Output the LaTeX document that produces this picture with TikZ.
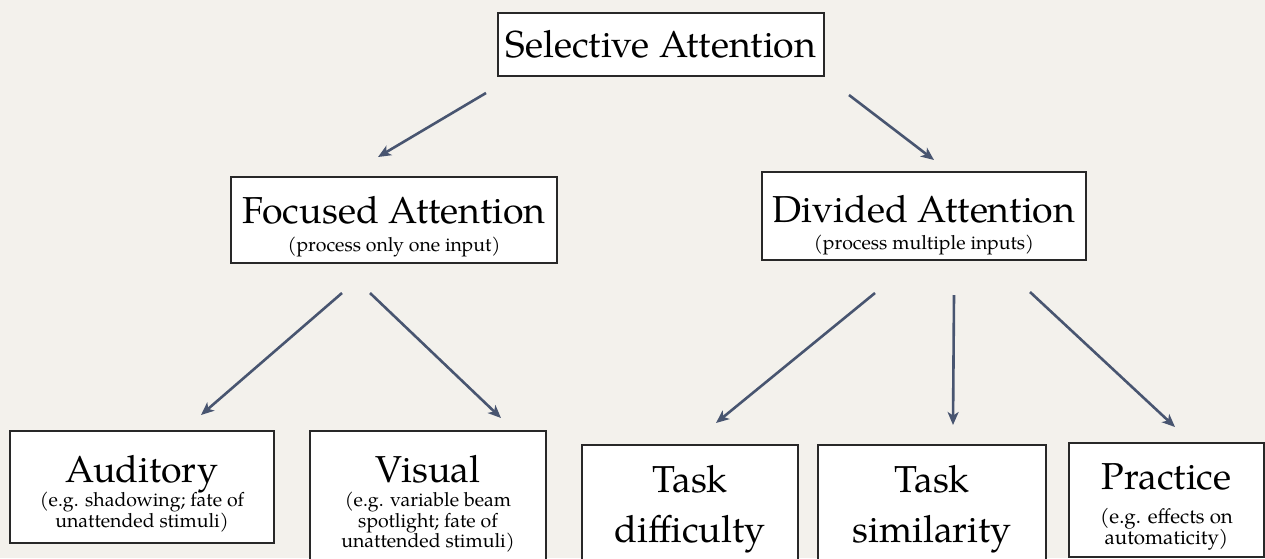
\documentclass[tikz,border=0pt]{standalone}
\usepackage{fontspec}
\setmainfont{TeX Gyre Pagella}
\usetikzlibrary{arrows.meta}
\definecolor{paper}{RGB}{243,241,236}
\definecolor{arrowc}{RGB}{72,85,112}
\definecolor{boxline}{RGB}{40,40,40}
\newcommand{\bigtxt}{\fontsize{37.5}{40}\selectfont}
\newcommand{\fixskip}{\lineskiplimit=-100pt\relax}
\begin{document}
\begin{tikzpicture}[x=1pt,y=-1pt,
  box/.style={draw=boxline, line width=1.4pt, fill=white, inner sep=0pt, align=center},
  conn/.style={draw=arrowc, line width=2.6pt, -{Stealth[length=13pt,width=11pt,inset=3.5pt]}}]
\useasboundingbox (0,0) rectangle (1265,558);
\clip (0,0) rectangle (1265,558);
\fill[paper] (0,0) rectangle (1265,558);

\node[box, minimum width=326pt, minimum height=63pt, font=\bigtxt] (sel) at (661,44.5) {Selective Attention};

\node[box, minimum width=326pt, minimum height=86pt,
  font={\fontsize{19.5}{27.5}\selectfont\fixskip}] (foc) at (394,220)
  {\rule{0pt}{40.4pt}{\bigtxt Focused Attention}\\(process only one input)};

\node[box, minimum width=324pt, minimum height=88pt,
  font={\fontsize{19.5}{27.5}\selectfont\fixskip}] (div) at (924,216)
  {\rule{0pt}{45pt}{\bigtxt Divided Attention}\\(process multiple inputs)};

\node[box, minimum width=264pt, minimum height=112pt,
  font={\fontsize{19.5}{20.5}\selectfont\fixskip}] (aud) at (142,487)
  {\rule{0pt}{40.3pt}{\bigtxt Auditory}\\[4pt](e.g. shadowing; fate of\\unattended stimuli)};

\node[box, minimum width=236pt, minimum height=145.6pt,
  font={\fontsize{19.5}{20.5}\selectfont\fixskip}] (vis) at (428,503.8)
  {{\bigtxt Visual}\\[4pt](e.g. variable beam\\spotlight; fate of\\unattended stimuli)};

\node[box, minimum width=216pt, minimum height=127.3pt,
  font={\fontsize{37.5}{50}\selectfont\fixskip}] (td) at (690,508.7)
  {Task\\difficulty};

\node[box, minimum width=228pt, minimum height=127.3pt,
  font={\fontsize{37.5}{50}\selectfont\fixskip}] (ts) at (932,508.7)
  {Task\\similarity};

\node[box, minimum width=195pt, minimum height=114pt,
  font={\fontsize{20.5}{20.5}\selectfont\fixskip}] (pr) at (1166.5,500)
  {\rule{0pt}{40pt}{\bigtxt Practice}\\[13.5pt](e.g. effects on\\automaticity)};

\coordinate (a1s) at (486,93);   \coordinate (a1e) at (378,157);
\coordinate (a2s) at (849,95);   \coordinate (a2e) at (934,160);
\coordinate (a3s) at (342,293);  \coordinate (a3e) at (201,415);
\coordinate (a4s) at (370,293);  \coordinate (a4e) at (501,418);
\coordinate (a5s) at (875,293);  \coordinate (a5e) at (716,423);
\coordinate (a6s) at (954,295);  \coordinate (a6e) at (953,425);
\coordinate (a7s) at (1030,292); \coordinate (a7e) at (1175,427);

\draw[conn] (a1s) -- (a1e);
\draw[conn] (a2s) -- (a2e);
\draw[conn] (a3s) -- (a3e);
\draw[conn] (a4s) -- (a4e);
\draw[conn] (a5s) -- (a5e);
\draw[conn] (a6s) -- (a6e);
\draw[conn] (a7s) -- (a7e);
\end{tikzpicture}
\end{document}
